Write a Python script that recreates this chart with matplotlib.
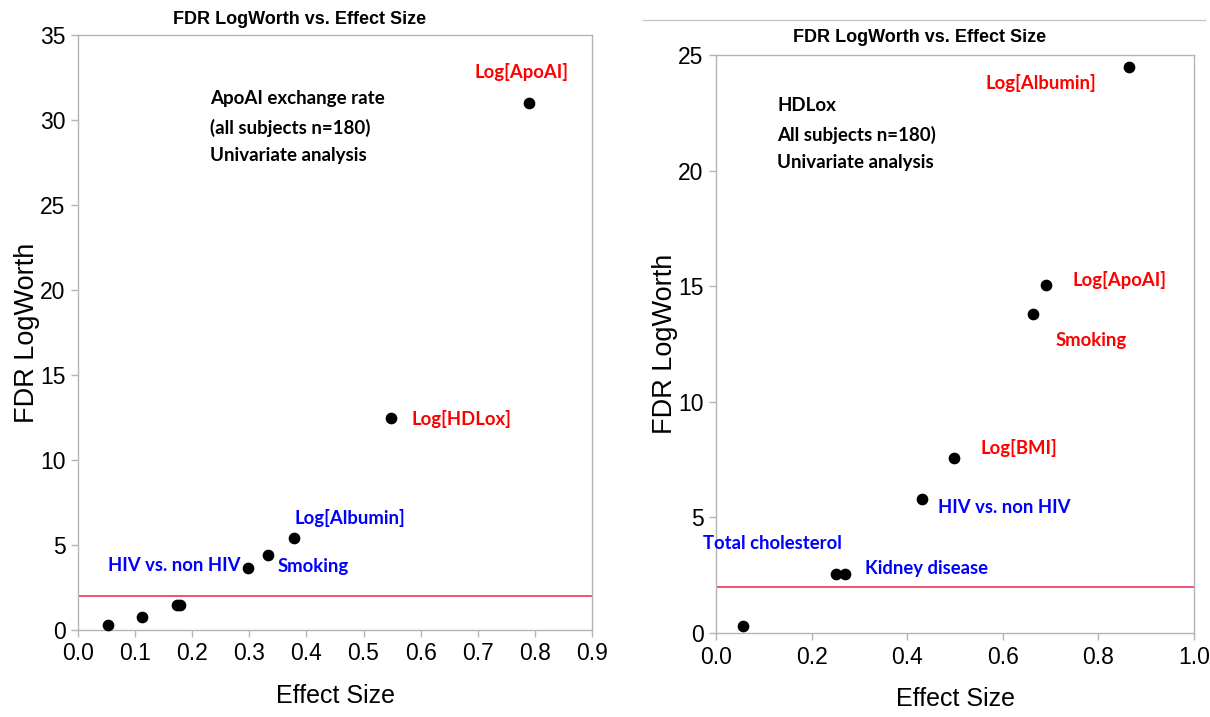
"""FDR LogWorth vs. effect size, two univariate screens side by side."""

import matplotlib

matplotlib.use("Agg")
import matplotlib.pyplot as plt
from matplotlib.lines import Line2D

# left panel: ApoAI exchange rate
apo_effect = [0.052, 0.112, 0.173, 0.179, 0.298, 0.333, 0.378, 0.548, 0.790]
apo_logworth = [0.28, 0.77, 1.45, 1.50, 3.67, 4.44, 5.40, 12.5, 31.0]
apo_labels = ["", "", "", "", "HIV vs. non HIV", "Smoking", "Log[Albumin]", "Log[HDLox]", "Log[ApoAI]"]
apo_colors = ["", "", "", "", "blue", "blue", "blue", "red", "red"]

# right panel: HDLox
hdl_effect = [0.057, 0.250, 0.270, 0.431, 0.4975, 0.664, 0.691, 0.863]
hdl_logworth = [0.32, 2.55, 2.55, 5.8, 7.55, 13.8, 15.05, 24.5]
hdl_labels = ["", "Total cholesterol", "Kidney disease", "HIV vs. non HIV", "Log[BMI]", "Smoking", "Log[ApoAI]", "Log[Albumin]"]
hdl_colors = ["", "blue", "blue", "blue", "red", "red", "red", "red"]

THRESHOLD = 2.0
TITLE = "FDR LogWorth vs. Effect Size"
apo_note = "ApoAI exchange rate\n(all subjects n=180)\nUnivariate analysis"
hdl_note = "HDLox\nAll subjects n=180)\nUnivariate analysis"

# label offsets in pixels (dx, dy, ha), same order as labels
apo_offsets = [None, None, None, None, (-8, 2, "right"), (9, -12, "left"),
               (1, 20, "left"), (21, -1, "left"), (-8, 31, "center")]
hdl_offsets = [None, (6, 31, "right"), (20, 6, "left"), (16, -9, "left"),
               (27, 10, "left"), (22, -27, "left"), (26, 5, "left"), (-32, -16, "right")]

W, H = 1210, 717
AXFONT = "Liberation Sans"
LABEL_FONT = "Lato"
GRAY = "#b4b4b4"


def frac(x0, y0, x1, y1):
    return [x0 / W, 1 - y1 / H, (x1 - x0) / W, (y1 - y0) / H]


def panel(ax, xs, ys, labels, colors, offsets, xticks, yticks, note, note_xy):
    ax.scatter(xs, ys, s=55, color="black", zorder=3, clip_on=False)
    ax.axhline(THRESHOLD, color="#ee4466", lw=1.3, zorder=2)
    for x, y, lab, col, off in zip(xs, ys, labels, colors, offsets):
        if not lab:
            continue
        dx, dy, ha = off
        ax.annotate(lab, (x, y), xytext=(dx * 0.72, dy * 0.72), textcoords="offset points",
                    ha=ha, va="center", color=col, fontsize=13.3,
                    fontfamily=LABEL_FONT, fontweight="bold")
    ax.text(note_xy[0], note_xy[1], note, transform=ax.transAxes, ha="left", va="center",
            fontsize=13.5, fontfamily=LABEL_FONT, fontweight="bold", linespacing=1.75)
    ax.set_xlim(xticks[0], xticks[-1])
    ax.set_ylim(yticks[0], yticks[-1])
    ax.set_xticks(xticks)
    ax.set_yticks(yticks)
    ax.set_xticklabels([f"{t:.1f}" for t in xticks])
    ax.set_yticklabels([f"{t:d}" for t in yticks])
    for sp in ax.spines.values():
        sp.set_color(GRAY)
        sp.set_linewidth(1.0)
    ax.tick_params(direction="out", length=5, width=1, color=GRAY, labelsize=16.5, pad=4)
    for t in ax.get_xticklabels() + ax.get_yticklabels():
        t.set_fontfamily(AXFONT)
    ax.set_xlabel("Effect Size", fontsize=18, fontfamily=AXFONT, labelpad=13)
    ax.set_ylabel("FDR LogWorth", fontsize=19.5, fontfamily=AXFONT, labelpad=0)


fig = plt.figure(figsize=(W / 100, H / 100), dpi=100)
ax1 = fig.add_axes(frac(78, 35, 592, 630))
ax2 = fig.add_axes(frac(716, 55, 1194, 633))

panel(ax1, apo_effect, apo_logworth, apo_labels, apo_colors, apo_offsets,
      [round(0.1 * i, 1) for i in range(10)], list(range(0, 36, 5)), apo_note, (0.257, 0.845))
panel(ax2, hdl_effect, hdl_logworth, hdl_labels, hdl_colors, hdl_offsets,
      [round(0.2 * i, 1) for i in range(6)], list(range(0, 26, 5)), hdl_note, (0.128, 0.863))

fig.text(300 / W, 1 - 19 / H, TITLE, ha="center", va="center", fontsize=13,
         fontfamily=AXFONT, fontweight="bold")
fig.text(920 / W, 1 - 37 / H, TITLE, ha="center", va="center", fontsize=13,
         fontfamily=AXFONT, fontweight="bold")
fig.add_artist(Line2D([643 / W, 1205 / W], [1 - 20 / H, 1 - 20 / H], color="#c8c8c8", lw=1.0,
                      transform=fig.transFigure))

fig.savefig("out.png", dpi=100)
